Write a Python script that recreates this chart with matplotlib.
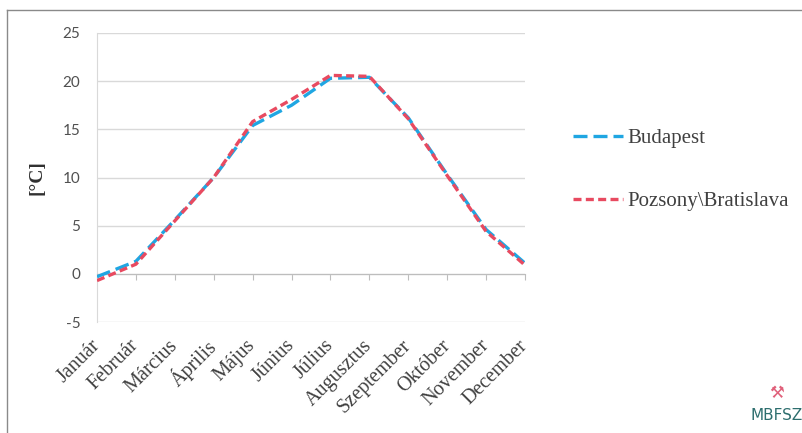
import matplotlib
matplotlib.use("Agg")
import matplotlib.pyplot as plt
from matplotlib.lines import Line2D

months = ["Január", "Február", "Március", "Április", "Május", "Június",
          "Július", "Augusztus", "Szeptember", "Október", "November", "December"]
budapest = [-0.3, 1.3, 5.6, 10.0, 15.4, 17.5, 20.3, 20.4, 16.2, 10.3, 4.6, 1.1]
pozsony = [-0.7, 1.0, 5.5, 10.0, 15.8, 18.1, 20.6, 20.5, 16.1, 10.2, 4.4, 0.9]
yticks = [-5, 0, 5, 10, 15, 20, 25]
labels = ["Budapest", "Pozsony\\Bratislava"]

W, H = 803, 433
fig = plt.figure(figsize=(W / 100, H / 100), dpi=100)
fig.patch.set_facecolor("white")

L, R, T, B = 97, 525, 33, 322
ax = fig.add_axes([L / W, 1 - B / H, (R - L) / W, (B - T) / H])

x = list(range(len(months)))
blue = "#1fa6e2"
red = "#e84a60"
lb, = ax.plot(x, budapest, color=blue, lw=2.4, dashes=(4.2, 1.8),
              dash_capstyle="butt", zorder=3)
lr, = ax.plot(x, pozsony, color=red, lw=2.4, dashes=(2.4, 1.3), dash_capstyle="butt", zorder=4)

ax.set_xlim(0, 11)
ax.set_ylim(-5, 25)
ax.set_yticks(yticks)
ax.set_yticklabels([str(v) for v in yticks], family="Lato", fontsize=11, color="#505050")
ax.tick_params(axis="y", length=0, pad=12)
ax.grid(axis="y", color="#d9d9d9", lw=1)
ax.set_axisbelow(True)

for s in ["top", "right"]:
    ax.spines[s].set_visible(False)
ax.spines["left"].set_color("#d9d9d9")
ax.spines["bottom"].set_position(("data", 0))
ax.spines["bottom"].set_color("#bdbdbd")
ax.set_xticks(x)
ax.tick_params(axis="x", direction="out", length=4, color="#bdbdbd", labelbottom=False)

sec = ax.secondary_xaxis("bottom")
sec.set_xticks(x)
sec.set_xticklabels(months)
sec.tick_params(length=0, pad=15)
sec.spines["bottom"].set_visible(False)
for t in sec.get_xticklabels():
    t.set_rotation(45)
    t.set_ha("right")
    t.set_va("center")
    t.set_rotation_mode("anchor")
    t.set_family("Liberation Serif")
    t.set_fontsize(14.5)
    t.set_color("#404040")

ax.set_ylabel("[°C]", family="Liberation Serif", fontsize=14, fontweight="bold", color="#303030")
ax.yaxis.set_label_coords((46 - L) / (R - L), 0.5)

leg = ax.legend([lb, lr], labels, loc="center left",
                bbox_to_anchor=(573 / W, 1 - 170 / H), bbox_transform=fig.transFigure,
                frameon=False, borderpad=0, borderaxespad=0, handlelength=2.4,
                handletextpad=0.2, labelspacing=2.1,
                prop={"family": "Liberation Serif", "size": 15})
for t in leg.get_texts():
    t.set_color("#404040")

# outer frame (top and left visible)
fig.add_artist(Line2D([7 / W, 7 / W], [0, 1 - 10 / H], transform=fig.transFigure,
                      color="#8a8a8a", lw=1))
fig.add_artist(Line2D([7 / W, 1], [1 - 10 / H, 1 - 10 / H], transform=fig.transFigure,
                      color="#8a8a8a", lw=1))

# logo
fig.text(777 / W, 1 - 393 / H, "⚒", ha="center", va="center", fontsize=12,
         color="#e0607a", family="DejaVu Sans")
fig.text(777 / W, 1 - 415 / H, "MBFSZ", ha="center", va="center", fontsize=11,
         color="#2d6e6e", family="DejaVu Sans")

fig.savefig("out.png", dpi=100, facecolor="white")
